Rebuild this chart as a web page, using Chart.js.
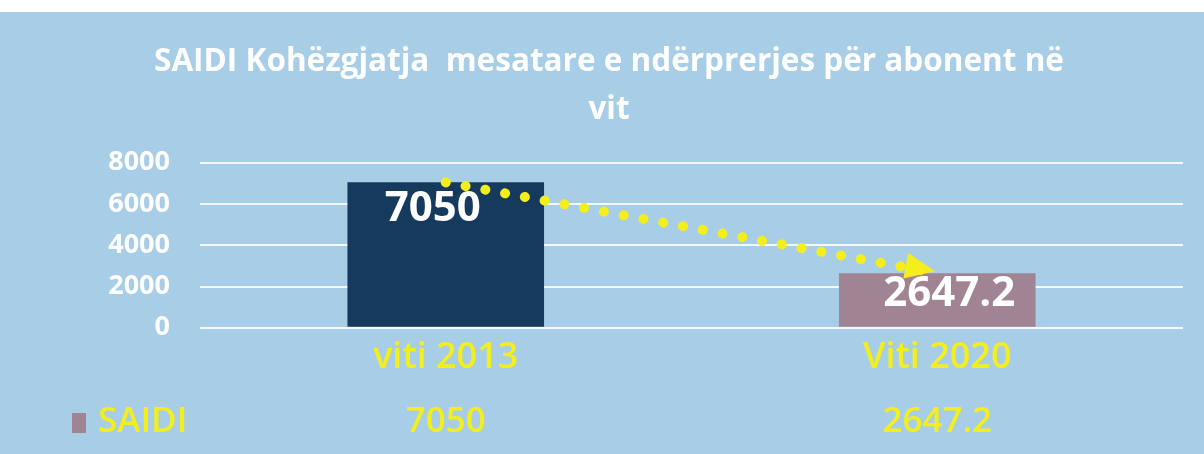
<!DOCTYPE html>
<html>
<head>
<meta charset="utf-8">
<script src="https://cdn.jsdelivr.net/npm/chart.js@4.4.1/dist/chart.umd.min.js"></script>
<style>
  html, body { margin: 0; padding: 0; background: #ffffff; }
  #wrap { position: absolute; left: 0; top: 12px; width: 1204px; height: 442px; background: #a7cee6; }
</style>
</head>
<body>
<div id="wrap"><canvas id="chart" width="1204" height="442"></canvas></div>
<script>
// --- data ---
const categories = ['viti 2013', 'Viti 2020'];
const saidiValues = [7050, 2647.2];
const valueLabels = ['7050', '2647.2'];
const seriesName = 'SAIDI';
const titleLines = ['SAIDI Kohëzgjatja  mesatare e ndërprerjes për abonent në', 'vit'];
const yTicks = [0, 2000, 4000, 6000, 8000];

const COLORS = {
  bars: ['#153a5e', '#a08494'],
  legend: '#a08494',
  yellow: '#f4ef1c',
  white: '#ffffff',
  grid: 'rgba(255,255,255,0.85)'
};
const FONT = "'Open Sans', sans-serif";

// labels inside the bars + arrow head + data table row
const overlayPlugin = {
  id: 'overlay',
  afterDatasetsDraw(chart) {
    const ctx = chart.ctx;
    const barMeta = chart.getDatasetMeta(1);
    const lineMeta = chart.getDatasetMeta(0);

    // arrow head at the end of the dotted trend
    const p0 = lineMeta.data[0], p1 = lineMeta.data[1];
    const ang = Math.atan2(p1.y - p0.y, p1.x - p0.x);
    ctx.save();
    ctx.fillStyle = COLORS.yellow;
    ctx.translate(p1.x - 2, p1.y - 2);
    ctx.rotate(ang);
    ctx.beginPath();
    ctx.moveTo(0, 0);
    ctx.lineTo(-30, -13);
    ctx.lineTo(-30, 13);
    ctx.closePath();
    ctx.fill();
    ctx.restore();

    // value labels inside bars
    ctx.save();
    ctx.fillStyle = COLORS.white;
    ctx.font = "bold 42px " + FONT;
    ctx.textAlign = 'center';
    ctx.textBaseline = 'middle';
    const offs = [[-13, 27], [12, 21]];
    barMeta.data.forEach((bar, i) => {
      ctx.fillText(valueLabels[i], bar.x + offs[i][0], bar.y + offs[i][1]);
    });
    ctx.restore();
  },
  afterDraw(chart) {
    const ctx = chart.ctx;
    const xs = chart.scales.x;
    const rowY = 409;
    ctx.save();
    ctx.fillStyle = COLORS.legend;
    ctx.fillRect(72, rowY - 8, 14, 20);
    ctx.fillStyle = COLORS.yellow;
    ctx.font = "600 35px " + FONT;
    ctx.textBaseline = 'middle';
    ctx.textAlign = 'left';
    ctx.fillText(seriesName, 98, rowY + 1);
    ctx.textAlign = 'center';
    saidiValues.forEach((v, i) => {
      ctx.fillText(valueLabels[i], xs.getPixelForValue(i), rowY + 1);
    });
    ctx.restore();
  }
};

new Chart(document.getElementById('chart'), {
  data: {
    labels: categories,
    datasets: [
      {
        type: 'line',
        label: 'trend',
        data: saidiValues,
        borderColor: COLORS.yellow,
        borderWidth: 10,
        borderCapStyle: 'round',
        borderDash: [0.1, 20],
        pointRadius: 0,
        fill: false,
        order: 0
      },
      {
        type: 'bar',
        label: seriesName,
        data: saidiValues,
        backgroundColor: COLORS.bars,
        categoryPercentage: 1,
        barPercentage: 0.4,
        order: 1
      }
    ]
  },
  options: {
    responsive: false,
    animation: false,
    layout: { padding: { left: 35, right: 21, top: 26, bottom: 75 } },
    plugins: {
      legend: { display: false },
      tooltip: { enabled: false },
      title: {
        display: true,
        text: titleLines,
        color: COLORS.white,
        font: { family: FONT, size: 31.5, weight: 'bold', lineHeight: 1.52 },
        padding: { top: 0, bottom: 29 }
      }
    },
    scales: {
      x: {
        grid: { display: false },
        border: { display: false },
        ticks: { color: COLORS.yellow, font: { family: FONT, size: 36, weight: '600' }, padding: 0 }
      },
      y: {
        min: 0,
        max: 8000,
        afterBuildTicks(axis) { axis.ticks = yTicks.map(v => ({ value: v })); },
        afterFit(axis) { axis.width = 165; },
        grid: { color: COLORS.grid, lineWidth: 2, drawTicks: false },
        border: { display: false },
        ticks: {
          color: COLORS.white,
          font: { family: FONT, size: 27, weight: 'bold' },
          padding: 30,
          callback: v => String(v)
        }
      }
    }
  },
  plugins: [overlayPlugin]
});
</script>
</body>
</html>
